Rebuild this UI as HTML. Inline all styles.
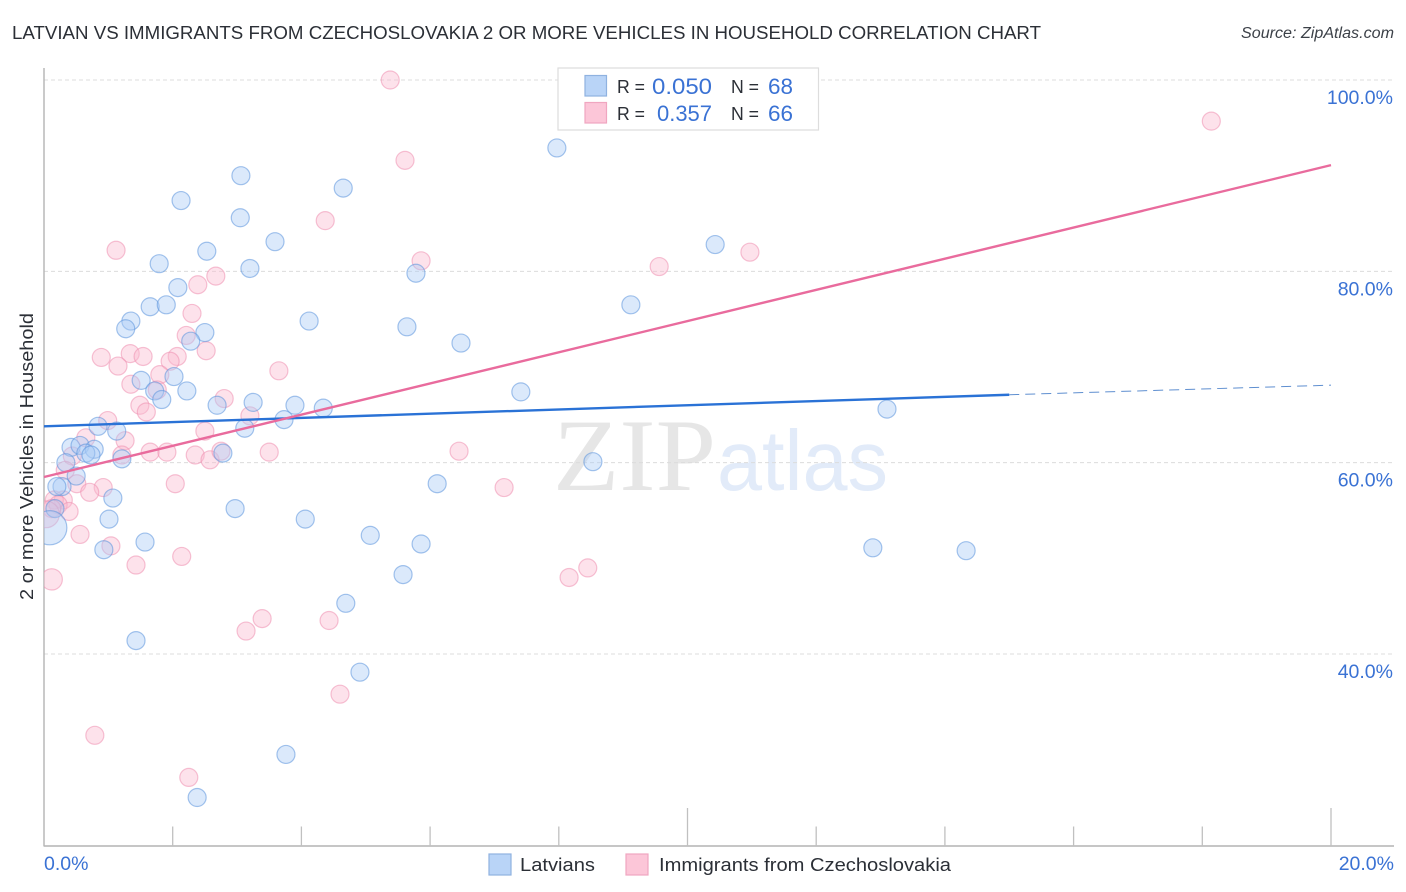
<!DOCTYPE html>
<html lang="en">
<head>
<meta charset="utf-8">
<title>Latvian vs Immigrants from Czechoslovakia correlation chart</title>
<style>
html,body{margin:0;padding:0;background:#fff;width:1406px;height:892px;overflow:hidden}
svg{display:block;font-family:"Liberation Sans",sans-serif}
</style>
</head>
<body>
<svg id="chart" width="1406" height="892" viewBox="0 0 1406 892" xmlns="http://www.w3.org/2000/svg">
  <defs><clipPath id="plot-clip"><rect x="44" y="60" width="1350" height="786"/></clipPath></defs>
  <rect x="0" y="0" width="1406" height="892" fill="#ffffff"/>
  <text x="12" y="39" font-size="18" fill="#2b2f36" textLength="1029" lengthAdjust="spacingAndGlyphs">LATVIAN VS IMMIGRANTS FROM CZECHOSLOVAKIA 2 OR MORE VEHICLES IN HOUSEHOLD CORRELATION CHART</text>
  <text x="1241" y="38" font-size="15.5" font-style="italic" fill="#3c4148" textLength="153" lengthAdjust="spacingAndGlyphs">Source: ZipAtlas.com</text>
  <text x="553" y="490" font-family="'Liberation Serif',serif" font-size="103" fill="#e6e6e6" textLength="163" lengthAdjust="spacingAndGlyphs">ZIP</text>
  <text x="717" y="490" font-family="'Liberation Sans',sans-serif" font-size="85" fill="#e2ebf9" textLength="171" lengthAdjust="spacingAndGlyphs">atlas</text>
  <g id="grid"></g>
  <g id="axes"></g>
  <g id="points" clip-path="url(#plot-clip)"></g>
  <g id="trends"></g>
  <g id="labels"></g>
  <text transform="translate(33,456.5) rotate(-90)" font-size="18.5" fill="#2b2f36" text-anchor="middle" textLength="287" lengthAdjust="spacingAndGlyphs">2 or more Vehicles in Household</text>

  <g>
    <rect x="558" y="68" width="260.5" height="62" fill="#ffffff" stroke="#dddddd" stroke-width="1.2"/>
    <rect x="585" y="75.5" width="21.5" height="20.5" fill="#b9d4f7" stroke="#8fb2e0" stroke-width="1.2"/>
    <rect x="585" y="102.5" width="21.5" height="20.5" fill="#fcc6d8" stroke="#f0a6c0" stroke-width="1.2"/>
    <text x="617" y="93" font-size="18" fill="#2b2f36" textLength="28" lengthAdjust="spacingAndGlyphs">R =</text>
    <text x="652" y="94" font-size="22" fill="#3a72d4" textLength="60" lengthAdjust="spacingAndGlyphs">0.050</text>
    <text x="731" y="93" font-size="18" fill="#2b2f36" textLength="28" lengthAdjust="spacingAndGlyphs">N =</text>
    <text x="768" y="94" font-size="22" fill="#3a72d4" textLength="25" lengthAdjust="spacingAndGlyphs">68</text>
    <text x="617" y="120" font-size="18" fill="#2b2f36" textLength="28" lengthAdjust="spacingAndGlyphs">R =</text>
    <text x="657" y="121" font-size="22" fill="#3a72d4" textLength="55" lengthAdjust="spacingAndGlyphs">0.357</text>
    <text x="731" y="120" font-size="18" fill="#2b2f36" textLength="28" lengthAdjust="spacingAndGlyphs">N =</text>
    <text x="768" y="121" font-size="22" fill="#3a72d4" textLength="25" lengthAdjust="spacingAndGlyphs">66</text>
  </g>

  <g>
    <rect x="489" y="854" width="22" height="21" fill="#b9d4f7" stroke="#8fb2e0" stroke-width="1.2"/>
    <text x="520" y="871" font-size="18.5" fill="#2b2f36" textLength="75" lengthAdjust="spacingAndGlyphs">Latvians</text>
    <rect x="626" y="854" width="22" height="21" fill="#fcc6d8" stroke="#f0a6c0" stroke-width="1.2"/>
    <text x="659" y="871" font-size="18.5" fill="#2b2f36" textLength="292" lengthAdjust="spacingAndGlyphs">Immigrants from Czechoslovakia</text>
  </g>
</svg>
<script>
const latvianX = [7.97,3.06,4.65,2.13,3.05,3.59,2.53,10.43,1.79,3.20,5.78,2.08,9.12,1.65,1.90,1.35,1.27,2.50,4.12,5.64,6.48,2.28,2.02,1.51,1.72,2.22,1.83,7.41,2.69,3.25,3.90,4.34,13.10,3.73,0.84,1.13,3.12,0.42,0.56,0.78,0.65,0.73,2.78,1.21,8.53,0.34,0.50,6.11,0.28,0.20,1.07,2.97,0.17,1.01,4.06,5.07,1.57,5.86,0.93,12.88,14.33,5.58,4.69,1.43,4.91,3.76,2.38];
const latvianY = [92.9,90.0,88.7,87.4,85.6,83.1,82.1,82.8,80.8,80.3,79.8,78.3,76.5,76.3,76.5,74.8,74.0,73.6,74.8,74.2,72.5,72.7,69.0,68.6,67.5,67.5,66.6,67.4,66.0,66.3,66.0,65.7,65.6,64.5,63.8,63.3,63.6,61.6,61.8,61.4,61.0,60.8,61.0,60.4,60.1,60.0,58.6,57.8,57.5,57.5,56.3,55.2,55.2,54.1,54.1,52.4,51.7,51.5,50.9,51.1,50.8,48.3,45.3,41.4,38.1,29.5,25.0];
const latvianLargeX = [0.09];
const latvianLargeY = [53.2];
const latvianLargeWeight = [3.6];

const immigrantX = [5.38,18.14,5.61,4.37,1.12,5.86,10.97,9.56,2.67,2.39,2.30,2.21,2.52,0.89,1.34,1.54,2.07,1.96,1.15,3.65,1.80,1.35,1.76,2.80,1.49,1.59,3.20,0.99,2.50,1.26,0.65,1.65,1.91,2.35,2.58,2.75,3.50,6.45,1.21,0.44,0.33,0.51,2.04,0.92,0.71,7.15,0.30,0.16,0.22,0.39,0.12,0.56,1.04,2.14,1.43,8.16,8.45,3.39,3.14,4.43,4.60,0.79,2.25];
const immigrantY = [100.0,95.7,91.6,85.3,82.2,81.1,82.0,80.5,79.5,78.6,75.6,73.3,71.7,71.0,71.4,71.1,71.1,70.6,70.1,69.6,69.2,68.2,67.6,66.7,66.0,65.3,64.9,64.4,63.3,62.3,62.6,61.1,61.1,60.8,60.3,61.2,61.1,61.2,60.8,60.7,59.2,57.8,57.8,57.4,56.9,57.4,56.1,56.1,55.6,54.9,55.2,52.5,51.3,50.2,49.3,48.0,49.0,43.7,42.4,43.5,35.8,31.5,27.1];
const immigrantLargeX = [0.03,0.12];
const immigrantLargeY = [54.6,47.8];
const immigrantLargeWeight = [2.2,1.4];

const latvianTrendX = [0,15,20];
const latvianTrendY = [63.8,67.1,68.1];
const immigrantTrendX = [0,20];
const immigrantTrendY = [58.5,91.1];

const gridValues = [100,80,60,40];
const yTickLabels = ["100.0%","80.0%","60.0%","40.0%"];
const xTickValues = [0,2,4,6,8,10,12,14,16,18,20];
const xTickLabels = ["0.0%","20.0%"];

const svgNS = "http://www.w3.org/2000/svg";
const xScale = v => 44 + v * 64.35;
const yScale = v => 80 + (100 - v) * 9.5667;

function mk(parent, tag, attrs) {
  const el = document.createElementNS(svgNS, tag);
  for (const k in attrs) el.setAttribute(k, attrs[k]);
  parent.appendChild(el);
  return el;
}

const gridG = document.getElementById("grid");
const axesG = document.getElementById("axes");
const pointsG = document.getElementById("points");
const trendsG = document.getElementById("trends");
const labelsG = document.getElementById("labels");

gridValues.forEach((v, i) => {
  const line = mk(gridG, "line", {x1: 44, x2: 1394, y1: yScale(v), y2: yScale(v), stroke: "#dcdcdc", "stroke-width": 1, "stroke-dasharray": "4 3"});
  
  
  const label = mk(labelsG, "text", {x: 1393, y: yScale(v) + 24, "font-size": 19.5, fill: "#3a72d4", "text-anchor": "end"});
  label.textContent = yTickLabels[i];
  
  
});

const yAxis = mk(axesG, "line", {x1: 44, x2: 44, y1: 68, y2: 846.5, stroke: "#b4b4b4", "stroke-width": 1.4});


const xAxis = mk(axesG, "line", {x1: 44, x2: 1394, y1: 846, y2: 846, stroke: "#b4b4b4", "stroke-width": 1.4});



xTickValues.forEach((v, i) => {
  if (i === 0) return;
  const tall = v === 10 || v === 20;
  const tick = mk(axesG, "line", {x1: xScale(v), x2: xScale(v), y1: tall ? 808 : 826.5, y2: 846, stroke: "#c0c0c0", "stroke-width": 1.3});
  
  
});

const xLabel0 = mk(labelsG, "text", {x: xScale(0), y: 870, "font-size": 19.5, fill: "#3a72d4"});
xLabel0.textContent = xTickLabels[0];


const xLabel1 = mk(labelsG, "text", {x: 1394, y: 870, "font-size": 19.5, fill: "#3a72d4", "text-anchor": "end"});
xLabel1.textContent = xTickLabels[1];



function drawPoint(x, y, weight, fill, stroke) {
  const c = mk(pointsG, "circle", {cx: xScale(x), cy: yScale(y), r: 9 * Math.sqrt(weight), fill: fill, "fill-opacity": 0.42, stroke: stroke, "stroke-opacity": 0.55, "stroke-width": 1.2});
  return c;
}
const blueFill = "#a9cbf6", blueStroke = "#5b93dc", pinkFill = "#fbb9cf", pinkStroke = "#ee8fb0";

immigrantX.forEach((x, i) => {
  const c = drawPoint(x, immigrantY[i], 1, pinkFill, pinkStroke);
  
  
});
immigrantLargeX.forEach((x, i) => {
  const c = drawPoint(x, immigrantLargeY[i], immigrantLargeWeight[i], pinkFill, pinkStroke);
  
  
});
latvianX.forEach((x, i) => {
  const c = drawPoint(x, latvianY[i], 1, blueFill, blueStroke);
  
  
});
latvianLargeX.forEach((x, i) => {
  const c = drawPoint(x, latvianLargeY[i], latvianLargeWeight[i], blueFill, blueStroke);
  
  
});

const blueSolid = mk(trendsG, "line", {x1: xScale(latvianTrendX[0]), y1: yScale(latvianTrendY[0]), x2: xScale(latvianTrendX[1]), y2: yScale(latvianTrendY[1]), stroke: "#2a72d6", "stroke-width": 2.4});


const blueDash = mk(trendsG, "line", {x1: xScale(latvianTrendX[1]), y1: yScale(latvianTrendY[1]), x2: xScale(latvianTrendX[2]), y2: yScale(latvianTrendY[2]), stroke: "#5f8fd0", "stroke-width": 1, "stroke-dasharray": "10 6"});


const pinkLine = mk(trendsG, "line", {x1: xScale(immigrantTrendX[0]), y1: yScale(immigrantTrendY[0]), x2: xScale(immigrantTrendX[1]), y2: yScale(immigrantTrendY[1]), stroke: "#e96b9d", "stroke-width": 2.4});


</script>
</body>
</html>
